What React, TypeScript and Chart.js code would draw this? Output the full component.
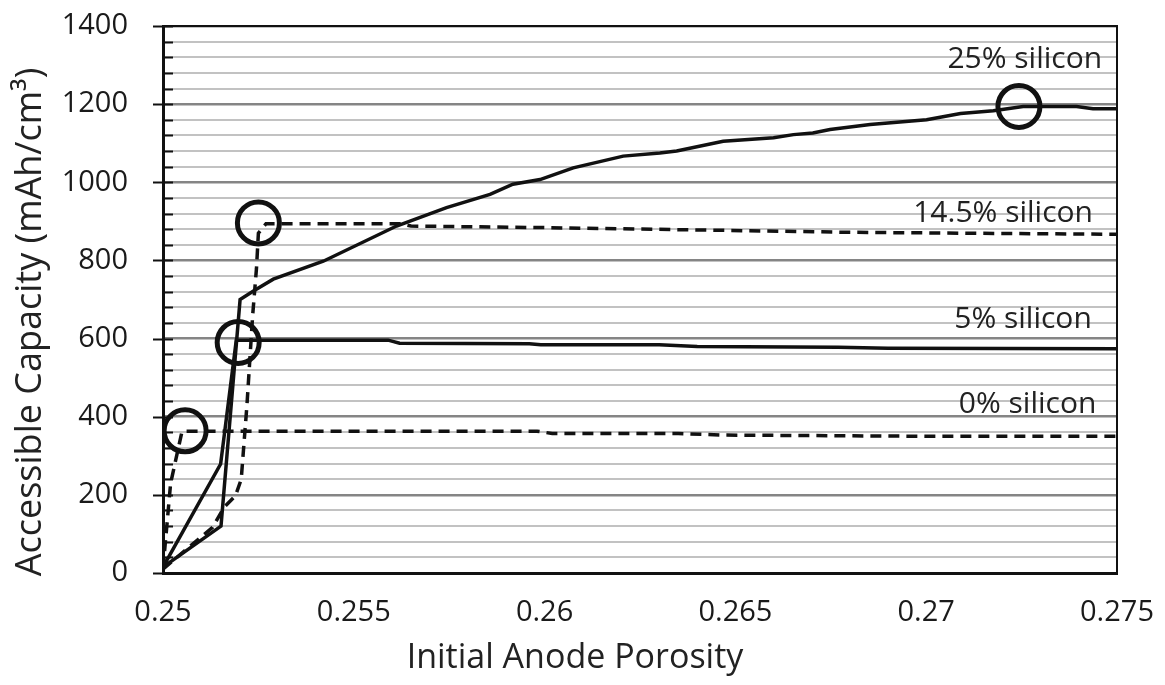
import React, { useEffect, useRef } from "react";
import { Chart, registerables } from "chart.js";

Chart.register(...registerables);

// ---- Data ----
const x0 = [0.25, 0.2502, 0.2505, 0.2598, 0.2602, 0.2635, 0.2647, 0.27, 0.275];
const y0 = [10, 230, 363, 363, 357, 357, 353, 350, 350];

const x5 = [0.25, 0.25151, 0.25192, 0.2559, 0.2562, 0.2596, 0.2599, 0.263, 0.264, 0.2677, 0.269, 0.275];
const y5 = [15, 279, 596, 596, 588, 587, 584, 584, 580, 578, 575, 574];

const x145 = [0.25, 0.2513, 0.2516, 0.2519, 0.25205, 0.2522, 0.25235, 0.25245, 0.2525, 0.2527, 0.2562, 0.2565, 0.26, 0.264, 0.268, 0.272, 0.275];
const y145 = [10, 117, 168, 198, 240, 430, 660, 780, 870, 894, 894, 888, 884, 878, 872, 869, 867];

const x25 = [0.25, 0.25152, 0.25202, 0.25237, 0.25289, 0.2542, 0.25612, 0.25743, 0.25857, 0.25917, 0.25988, 0.26075, 0.26206, 0.26302, 0.26346, 0.26468, 0.266, 0.26652, 0.26703, 0.26748, 0.26853, 0.27001, 0.2709, 0.27176, 0.27254, 0.27394, 0.27437, 0.275];
const y25 = [15, 120, 700, 722, 752, 798, 888, 935, 969, 995, 1007, 1037, 1067, 1075, 1080, 1105, 1114, 1122, 1126, 1135, 1148, 1160, 1176, 1183, 1194, 1194, 1188, 1188];

const circleX = [0.25058, 0.25197, 0.2525, 0.27243];
const circleY = [364, 590, 896, 1194];

const labelTexts = ["25% silicon", "14.5% silicon", "5% silicon", "0% silicon"];
const labelX = [0.27461, 0.27437, 0.27434, 0.27446];
const labelY = [1314, 920, 650, 432];

const xTickValues = [0.25, 0.255, 0.26, 0.265, 0.27, 0.275];
const xTickLabels = ["0.25", "0.255", "0.26", "0.265", "0.27", "0.275"];
const yTickValues = [0, 200, 400, 600, 800, 1000, 1200, 1400];
const yTickLabels = ["0", "200", "400", "600", "800", "1000", "1200", "1400"];
const yTitle = "Accessible Capacity (mAh/cm\u00B3)";
const xTitle = "Initial Anode Porosity";

const FONT = "'Open Sans', 'Noto Sans', sans-serif";

const pts = (xs: number[], ys: number[]) => xs.map((x, i) => ({ x, y: ys[i] }));

const decorPlugin = {
  id: "decor",
  afterDraw(chart: any) {
    const { ctx, chartArea, scales } = chart;
    const xs = scales.x;
    const ys = scales.y;
    ctx.save();
    // top & right border
    ctx.strokeStyle = "#111";
    ctx.lineWidth = 2;
    ctx.beginPath();
    ctx.moveTo(chartArea.left, chartArea.top);
    ctx.lineTo(chartArea.right, chartArea.top);
    ctx.lineTo(chartArea.right, chartArea.bottom);
    ctx.stroke();
    // y tick marks
    ctx.lineWidth = 2;
    for (let v = 0; v <= 1400; v += 40) {
      const py = Math.round(ys.getPixelForValue(v)) + 0.5;
      ctx.beginPath();
      if (v % 200 === 0) {
        ctx.moveTo(chartArea.left - 10, py);
      } else {
        ctx.moveTo(chartArea.left, py);
      }
      ctx.lineTo(chartArea.left + 10, py);
      ctx.stroke();
    }
    // tick labels
    ctx.fillStyle = "#1a1a1a";
    ctx.font = `29px ${FONT}`;
    ctx.textBaseline = "middle";
    ctx.textAlign = "right";
    yTickValues.forEach((v, i) => {
      ctx.fillText(yTickLabels[i], chartArea.left - 35, ys.getPixelForValue(v));
    });
    ctx.textAlign = "center";
    xTickValues.forEach((v, i) => {
      ctx.fillText(xTickLabels[i], xs.getPixelForValue(v), chartArea.bottom + 40);
    });
    // annotations
    ctx.fillStyle = "#222";
    ctx.font = `30px ${FONT}`;
    ctx.textAlign = "right";
    labelTexts.forEach((t, i) => {
      ctx.fillText(t, xs.getPixelForValue(labelX[i]), ys.getPixelForValue(labelY[i]));
    });
    // axis titles
    ctx.textAlign = "center";
    ctx.font = `34px ${FONT}`;
    ctx.fillText(xTitle, 575, 658);
    ctx.translate(31, 322);
    ctx.rotate(-Math.PI / 2);
    ctx.font = `36px ${FONT}`;
    ctx.fillText(yTitle, 0, 0);
    ctx.restore();
  },
};

const bgPlugin = {
  id: "bg",
  beforeDraw(chart: any) {
    const { ctx, width, height } = chart;
    ctx.save();
    ctx.fillStyle = "#ffffff";
    ctx.fillRect(0, 0, width, height);
    ctx.restore();
  },
};

export default function App() {
  const ref = useRef<HTMLCanvasElement>(null);
  useEffect(() => {
    if (!ref.current) return;
    const lineDs = (label: string, xs: number[], ys: number[], dashed: boolean) => ({
      label,
      data: pts(xs, ys),
      showLine: true,
      borderColor: "#111",
      borderWidth: 3.5,
      borderDash: dashed ? [11, 7] : [],
      pointRadius: 0,
      tension: 0,
      fill: false,
    });
    const chart = new Chart(ref.current, {
      type: "scatter",
      data: {
        datasets: [
          lineDs("0% silicon", x0, y0, true),
          lineDs("5% silicon", x5, y5, false),
          lineDs("14.5% silicon", x145, y145, true),
          lineDs("25% silicon", x25, y25, false),
          {
            label: "markers",
            data: pts(circleX, circleY),
            showLine: false,
            pointRadius: 21,
            pointBorderWidth: 5,
            pointBorderColor: "#111",
            pointBackgroundColor: "rgba(0,0,0,0)",
            pointStyle: "circle",
          } as any,
        ],
      },
      options: {
        animation: false,
        responsive: false,
        maintainAspectRatio: false,
        layout: { padding: { top: 24, right: 48, left: 0, bottom: 0 } },
        plugins: { legend: { display: false }, tooltip: { enabled: false } },
        scales: {
          x: {
            type: "linear",
            min: 0.25,
            max: 0.275,
            ticks: { display: false, stepSize: 0.005 },
            grid: { display: false, drawTicks: false },
            border: { color: "#111", width: 3 },
            afterFit: (s: any) => {
              s.height = 112;
            },
          },
          y: {
            type: "linear",
            min: 0,
            max: 1400,
            ticks: { display: false, stepSize: 40, autoSkip: false },
            grid: {
              drawTicks: false,
              color: (c: any) => (c.tick && c.tick.value % 200 === 0 ? "#858585" : "#c2c2c2"),
              lineWidth: (c: any) => (c.tick && c.tick.value % 200 === 0 ? 2.5 : 2),
            },
            border: { color: "#111", width: 3 },
            afterFit: (s: any) => {
              s.width = 163;
            },
          },
        },
      } as any,
      plugins: [bgPlugin, decorPlugin],
    });
    return () => chart.destroy();
  }, []);
  return (
    <div style={{ position: "fixed", left: 0, top: 0, width: 1165, height: 685, background: "#fff" }}>
      <canvas ref={ref} width={1165} height={685} style={{ width: 1165, height: 685 }} />
    </div>
  );
}
